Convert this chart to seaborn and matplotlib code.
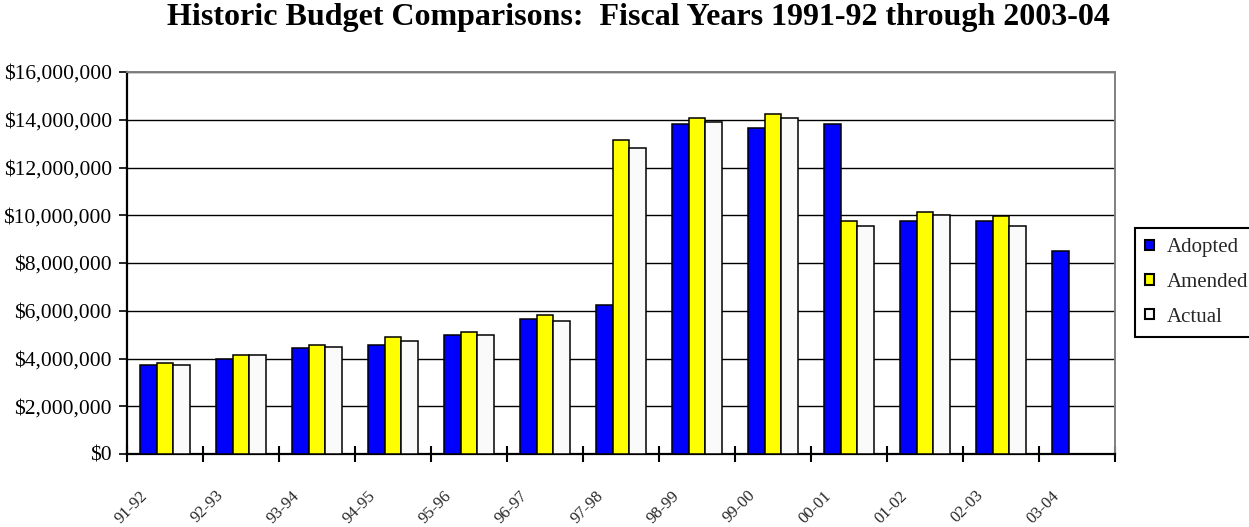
import numpy as np
import pandas as pd
import matplotlib
matplotlib.use("Agg")
import matplotlib.pyplot as plt
import matplotlib.transforms as mtransforms
from matplotlib.ticker import FuncFormatter, FixedLocator
import seaborn as sns

# ---- data ----
years = ["91-92", "92-93", "93-94", "94-95", "95-96", "96-97", "97-98",
         "98-99", "99-00", "00-01", "01-02", "02-03", "03-04"]
adopted = [3745000, 4000000, 4420000, 4580000, 5000000, 5670000, 6260000,
           13810000, 13640000, 13810000, 9780000, 9780000, 8520000]
amended = [3830000, 4160000, 4580000, 4920000, 5090000, 5840000, 13140000,
           14060000, 14230000, 9780000, 10120000, 9950000, np.nan]
actual = [3745000, 4160000, 4500000, 4750000, 5000000, 5590000, 12800000,
          13890000, 14060000, 9530000, 10030000, 9530000, np.nan]
series_names = ["Adopted", "Amended", "Actual"]
series_colors = ["#0000FF", "#FFFF00", "#FAFAFA"]
y_ticks = [0, 2000000, 4000000, 6000000, 8000000, 10000000, 12000000, 14000000, 16000000]
title = "Historic Budget Comparisons:  Fiscal Years 1991-92 through 2003-04"

df = pd.DataFrame({
    "Year": years * 3,
    "Value": adopted + amended + actual,
    "Series": [s for s in series_names for _ in years],
})

sns.set_theme(style="white")
plt.rcParams["font.family"] = ["Liberation Serif", "DejaVu Serif"]

W, H = 1249, 527
fig = plt.figure(figsize=(W / 100, H / 100), dpi=100)
ax = fig.add_axes([127 / W, 1 - 454 / H, (1115 - 127) / W, (454 - 72) / H])

sns.barplot(data=df, x="Year", y="Value", hue="Series", order=years,
            hue_order=series_names, palette=dict(zip(series_names, series_colors)),
            width=0.66, saturation=1, errorbar=None, edgecolor="black",
            linewidth=1.1, ax=ax, zorder=3)

ax.set_xlim(-0.5, len(years) - 0.5)
ax.set_ylim(0, 16000000)
ax.set_xlabel("")
ax.set_ylabel("")

# y axis
ax.yaxis.set_major_locator(FixedLocator(y_ticks))
ax.yaxis.set_major_formatter(FuncFormatter(lambda v, p: "${:,.0f}".format(v)))
ax.tick_params(axis="y", which="major", direction="out", length=6, width=1.2,
               color="black", labelsize=15.5, pad=5, left=True, labelcolor="black")

# horizontal grid
ax.yaxis.grid(True, color="black", linewidth=1.0, zorder=0)
ax.xaxis.grid(False)
ax.set_axisbelow(True)

# x axis: minor ticks at category boundaries, labels at centers
ax.set_xticks(range(len(years)))
ax.set_xticklabels(years)
ax.xaxis.set_minor_locator(FixedLocator(np.arange(-0.5, len(years), 1.0)))
ax.tick_params(axis="x", which="minor", direction="inout", length=11.5, width=1.5,
               color="black", bottom=True)
ax.tick_params(axis="x", which="major", length=0, pad=0, labelsize=12)
offset = mtransforms.ScaledTranslation(-0.34, -0.53, fig.dpi_scale_trans)
for lab in ax.get_xticklabels():
    lab.set_rotation(45)
    lab.set_rotation_mode("anchor")
    lab.set_ha("center")
    lab.set_va("center")
    lab.set_transform(lab.get_transform() + offset)

# spines
for side in ["left", "bottom"]:
    ax.spines[side].set_color("black")
    ax.spines[side].set_linewidth(1.6)
for side in ["top", "right"]:
    ax.spines[side].set_color("#808080")
    ax.spines[side].set_linewidth(1.4)
    ax.spines[side].set_visible(True)

# legend
handles, labels = ax.get_legend_handles_labels()
if ax.get_legend() is not None:
    ax.get_legend().remove()
leg = fig.legend(handles, labels, loc="upper left",
                 bbox_to_anchor=(1135 / W, 1 - 228 / H), bbox_transform=fig.transFigure,
                 borderaxespad=0, borderpad=0.5, handlelength=0.4, handleheight=0.4,
                 handletextpad=0.65, labelspacing=0.75, fontsize=15,
                 frameon=True, fancybox=False, framealpha=1, edgecolor="black")
leg.get_frame().set_linewidth(1.5)
for h in leg.legend_handles:
    h.set_linewidth(1.5)

fig.text(638 / W, 1 - 25 / H, title, ha="center", va="baseline",
         fontsize=23, fontweight="bold", color="black")

fig.savefig("out.png", dpi=100, facecolor="white")
